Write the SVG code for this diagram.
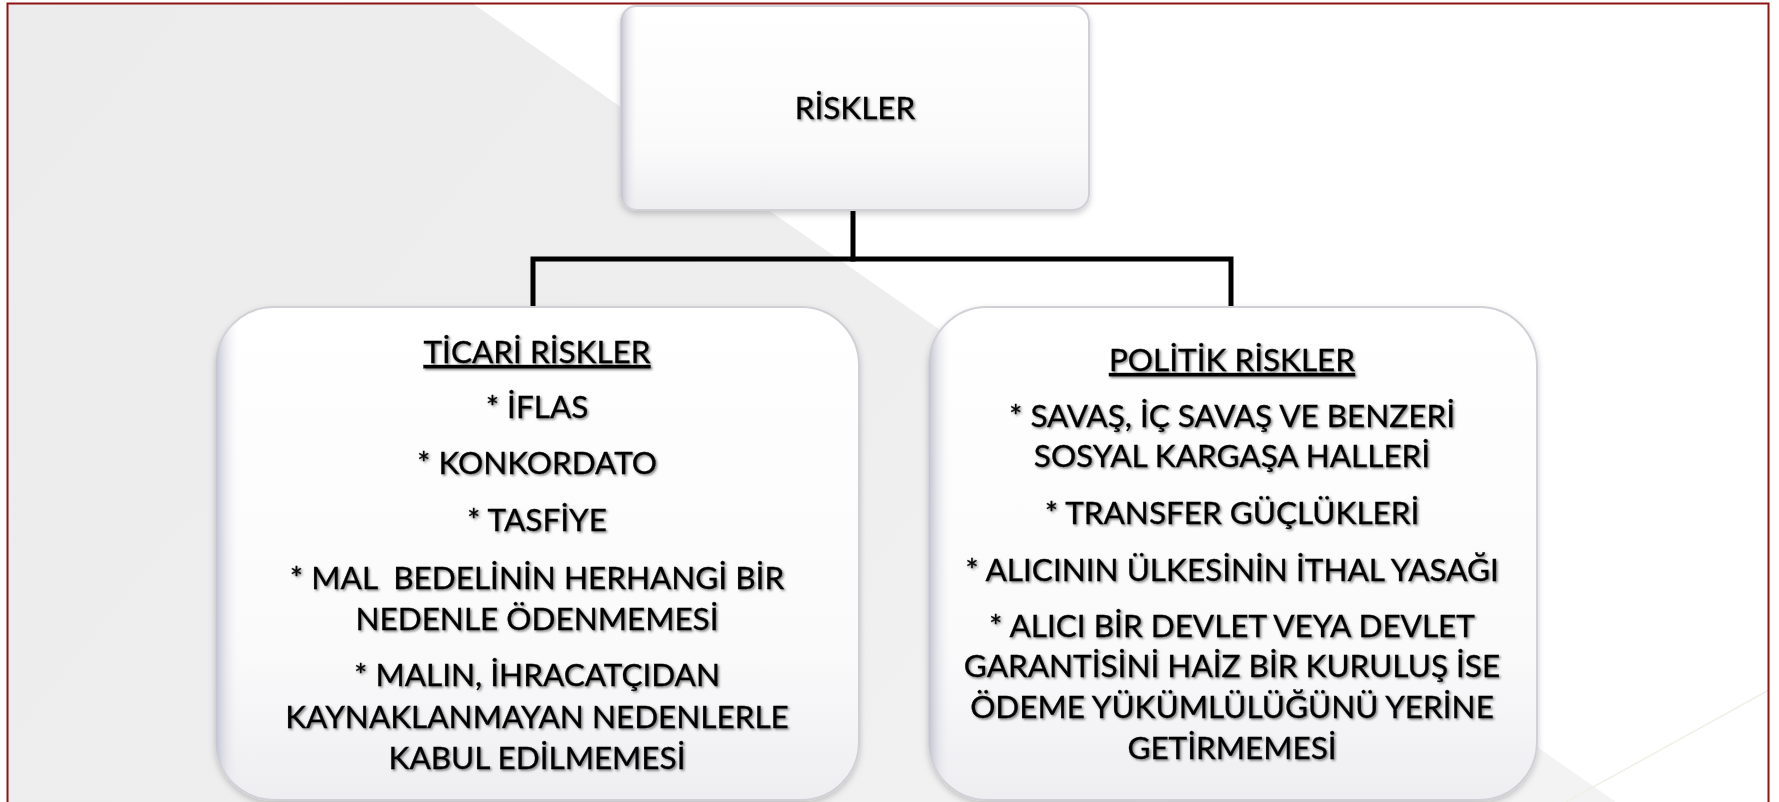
<svg xmlns="http://www.w3.org/2000/svg" width="1779" height="802" viewBox="0 0 1779 802">
  <defs>
    <linearGradient id="bgGrad" x1="0" y1="0" x2="1" y2="0.4">
      <stop offset="0" stop-color="#ececec"/>
      <stop offset="0.6" stop-color="#eeeeee"/>
      <stop offset="1" stop-color="#f3f3f3"/>
    </linearGradient>
    <linearGradient id="boxGrad" x1="0" y1="0" x2="0" y2="1">
      <stop offset="0" stop-color="#ffffff"/>
      <stop offset="0.7" stop-color="#fafafb"/>
      <stop offset="1" stop-color="#eeeef1"/>
    </linearGradient>
    <linearGradient id="edgeGrad" x1="0" y1="0" x2="1" y2="0">
      <stop offset="0" stop-color="#c4c4d2"/>
      <stop offset="0.035" stop-color="#f2f2f6" stop-opacity="0"/>
      <stop offset="1" stop-color="#ffffff" stop-opacity="0"/>
    </linearGradient>
    <filter id="boxShadow" x="-5%" y="-5%" width="110%" height="112%">
      <feDropShadow dx="0" dy="3" stdDeviation="3" flood-color="#000000" flood-opacity="0.2"/>
    </filter>
    <filter id="txtShadow" x="-5%" y="-30%" width="110%" height="160%">
      <feDropShadow dx="1.5" dy="1.5" stdDeviation="1" flood-color="#000000" flood-opacity="0.5"/>
    </filter>
  </defs>
  <style>
    .box { fill: url(#boxGrad); stroke: #d0d0d6; stroke-width: 2; filter: url(#boxShadow); }
    .edge { fill: url(#edgeGrad); stroke: none; }
    .t { font-family: Lato, "Liberation Sans", Arial, sans-serif; font-size: 31.5px; fill: #000000; stroke: #000000; stroke-width: 0.3; text-anchor: middle; filter: url(#txtShadow); }
    .u { text-decoration: underline; }
    .conn { stroke: #000000; stroke-width: 5; fill: none; stroke-linecap: square; stroke-linejoin: miter; }
  </style>

  <!-- background -->
  <rect x="0" y="0" width="1779" height="802" fill="#ffffff"/>
  <polygon points="7,3 472,3 1616,802 7,802" fill="url(#bgGrad)"/>
  <line x1="1566" y1="802" x2="1769" y2="690" stroke="#f0f0e8" stroke-width="1.5"/>
  <rect x="7.5" y="3.5" width="1761" height="800" fill="none" stroke="#8e1414" stroke-width="2"/>

  <!-- connectors -->
  <g id="connectors">
    <path class="conn" d="M853,213 V259"/>
    <path class="conn" d="M533,304 V259 H1231 V304"/>
  </g>

  <!-- top node -->
  <g id="node-riskler">
    <rect class="box" x="621" y="6" width="468" height="204" rx="16" ry="16"/>
    <rect class="edge" x="621" y="6" width="468" height="204" rx="16" ry="16"/>
    <text class="t" x="855" y="119">RİSKLER</text>
  </g>

  <!-- left node -->
  <g id="node-ticari">
    <rect class="box" x="216" y="307" width="643" height="493" rx="58" ry="58"/>
    <rect class="edge" x="216" y="307" width="643" height="493" rx="58" ry="58"/>
    <text class="t u" x="537" y="363">TİCARİ RİSKLER</text>
    <text class="t" x="537" y="418">* İFLAS</text>
    <text class="t" x="537" y="474">* KONKORDATO</text>
    <text class="t" x="537" y="531">* TASFİYE</text>
    <text class="t" x="537" y="589" xml:space="preserve">* MAL  BEDELİNİN HERHANGİ BİR</text>
    <text class="t" x="537" y="630">NEDENLE ÖDENMEMESİ</text>
    <text class="t" x="537" y="686">* MALIN, İHRACATÇIDAN</text>
    <text class="t" x="537" y="728">KAYNAKLANMAYAN NEDENLERLE</text>
    <text class="t" x="537" y="769">KABUL EDİLMEMESİ</text>
  </g>

  <!-- right node -->
  <g id="node-politik">
    <rect class="box" x="929" y="307" width="608" height="493" rx="58" ry="58"/>
    <rect class="edge" x="929" y="307" width="608" height="493" rx="58" ry="58"/>
    <text class="t u" x="1232" y="371">POLİTİK RİSKLER</text>
    <text class="t" x="1232" y="427">* SAVAŞ, İÇ SAVAŞ VE BENZERİ</text>
    <text class="t" x="1232" y="467">SOSYAL KARGAŞA HALLERİ</text>
    <text class="t" x="1232" y="524">* TRANSFER GÜÇLÜKLERİ</text>
    <text class="t" x="1232" y="581">* ALICININ ÜLKESİNİN İTHAL YASAĞI</text>
    <text class="t" x="1232" y="637">* ALICI BİR DEVLET VEYA DEVLET</text>
    <text class="t" x="1232" y="677">GARANTİSİNİ HAİZ BİR KURULUŞ İSE</text>
    <text class="t" x="1232" y="718">ÖDEME YÜKÜMLÜLÜĞÜNÜ YERİNE</text>
    <text class="t" x="1232" y="759">GETİRMEMESİ</text>
  </g>
</svg>
